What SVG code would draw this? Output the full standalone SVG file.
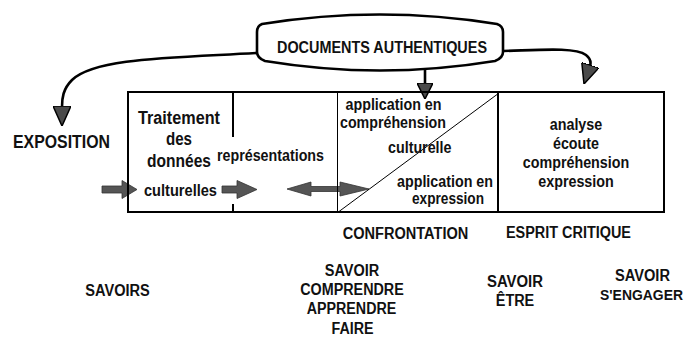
<svg xmlns="http://www.w3.org/2000/svg" width="689" height="338" viewBox="0 0 689 338">
<style>
text{font-family:"Liberation Sans",Arial,sans-serif;font-weight:bold;font-size:16px;fill:#111}
.m{text-anchor:middle}
.big{font-size:18px}
.frame{fill:none;stroke:#000;stroke-width:2}
.thin{fill:none;stroke:#000;stroke-width:1}
.curve{fill:none;stroke:#000;stroke-width:2.6}
.blk{fill:#555;stroke:#333;stroke-width:0.8}
</style>
<defs>
<marker id="ah" viewBox="0 0 20 18" refX="1" refY="9" markerWidth="20" markerHeight="18" markerUnits="userSpaceOnUse" orient="auto">
<path d="M0,0 L20,9 L0,18 Z" fill="#4a4a4a" stroke="#000" stroke-width="1.5"/>
</marker>
<marker id="ahs" viewBox="0 0 16 16" refX="1" refY="8" markerWidth="16" markerHeight="16" markerUnits="userSpaceOnUse" orient="auto">
<path d="M0,0 L16,8 L0,16 Z" fill="#4a4a4a" stroke="#000" stroke-width="1.5"/>
</marker>
</defs>
<rect width="689" height="338" fill="#fff"/>

<g id="connectors">
<path class="curve" d="M257,53 C170,58 95,58 72,80 C63,89 62,98 62,107" marker-end="url(#ah)"/>
<path class="curve" d="M425,70 L425,84" marker-end="url(#ahs)"/>
<path class="curve" d="M503,51 C540,50 575,47 586,55 C591,59 591,63 590,66" marker-end="url(#ah)"/>
<path class="blk" d="M102,186 L122,186 L122,180.5 L137,189.5 L122,198.5 L122,193 L102,193 Z"/>
<path class="blk" d="M222,186 L237,186 L237,180.5 L257,189.5 L237,198.5 L237,193 L222,193 Z"/>
<path class="blk" d="M287,189 L311,182 L311,186.5 L340,186.5 L340,182 L369,189 L340,196 L340,191.5 L311,191.5 L311,196 Z"/>
</g>

<g id="documents">
<path d="M262,24 Q380,5 497,24 Q503,26 503,32 L503,52 Q503,58 495,61 Q380,80 265,61 Q257,58 257,52 L257,32 Q257,26 262,24 Z" fill="#fff" stroke="#000" stroke-width="2.6"/>
<text class="m" x="382" y="53" textLength="210" lengthAdjust="spacingAndGlyphs">DOCUMENTS AUTHENTIQUES</text>
</g>

<g id="exposition">
<text class="big" x="13" y="148" textLength="97" lengthAdjust="spacingAndGlyphs">EXPOSITION</text>
</g>

<g id="box">
<rect class="frame" x="128" y="92" width="536" height="120"/>
<line class="frame" x1="233" y1="92" x2="233" y2="137"/>
<line class="frame" x1="233" y1="204" x2="233" y2="212"/>
<line class="thin" x1="337.5" y1="92" x2="337.5" y2="212"/>
<line class="frame" x1="498" y1="92" x2="498" y2="212"/>
<line class="thin" x1="339" y1="211.5" x2="497" y2="94.5"/>
</g>

<g id="traitement">
<text class="m big" x="179" y="124" textLength="82" lengthAdjust="spacingAndGlyphs">Traitement</text>
<text class="m" style="font-size:17.5px" x="179" y="145" textLength="26" lengthAdjust="spacingAndGlyphs">des</text>
<text class="m" style="font-size:17.5px" x="179" y="167" textLength="64" lengthAdjust="spacingAndGlyphs">données</text>
<text class="m" style="font-size:16.5px" x="180.5" y="196" textLength="73" lengthAdjust="spacingAndGlyphs">culturelles</text>
</g>

<g id="representations">
<text x="217" y="161" textLength="107" lengthAdjust="spacingAndGlyphs">représentations</text>
</g>

<g id="application">
<text x="345.5" y="110" textLength="96" lengthAdjust="spacingAndGlyphs">application en</text>
<text x="340" y="128" textLength="106" lengthAdjust="spacingAndGlyphs">compréhension</text>
<text x="388" y="153" textLength="63.5" lengthAdjust="spacingAndGlyphs">culturelle</text>
<text class="m" x="445" y="187" textLength="96" lengthAdjust="spacingAndGlyphs">application en</text>
<text class="m" x="448" y="204" textLength="72" lengthAdjust="spacingAndGlyphs">expression</text>
</g>

<g id="analyse">
<text class="m" x="576" y="130" textLength="52.5" lengthAdjust="spacingAndGlyphs">analyse</text>
<text class="m" x="576" y="149" textLength="46" lengthAdjust="spacingAndGlyphs">écoute</text>
<text class="m" x="576" y="168" textLength="106.5" lengthAdjust="spacingAndGlyphs">compréhension</text>
<text class="m" x="576" y="187" textLength="75.5" lengthAdjust="spacingAndGlyphs">expression</text>
</g>

<g id="confrontation">
<text class="m" x="405.5" y="239" textLength="125.5" lengthAdjust="spacingAndGlyphs">CONFRONTATION</text>
</g>
<g id="esprit-critique">
<text class="m" x="568.5" y="237.5" textLength="125" lengthAdjust="spacingAndGlyphs">ESPRIT CRITIQUE</text>
</g>

<g id="savoirs">
<text class="m" x="117.5" y="296" textLength="64.5" lengthAdjust="spacingAndGlyphs">SAVOIRS</text>
</g>
<g id="savoir-comprendre">
<text class="m" x="352" y="276" textLength="54.5" lengthAdjust="spacingAndGlyphs">SAVOIR</text>
<text class="m" x="352" y="295" textLength="103.5" lengthAdjust="spacingAndGlyphs">COMPRENDRE</text>
<text class="m" x="351.5" y="314" textLength="89.5" lengthAdjust="spacingAndGlyphs">APPRENDRE</text>
<text class="m" x="352.5" y="334" textLength="42" lengthAdjust="spacingAndGlyphs">FAIRE</text>
</g>
<g id="savoir-etre">
<text class="m" x="515" y="286.5" textLength="56" lengthAdjust="spacingAndGlyphs">SAVOIR</text>
<text class="m" x="515" y="305.5" textLength="38.5" lengthAdjust="spacingAndGlyphs">ÊTRE</text>
</g>
<g id="savoir-engager">
<text class="m" x="642.5" y="281" textLength="55" lengthAdjust="spacingAndGlyphs">SAVOIR</text>
<text class="m" style="font-size:15px" x="641.5" y="300" textLength="83" lengthAdjust="spacingAndGlyphs">S'ENGAGER</text>
</g>
</svg>
